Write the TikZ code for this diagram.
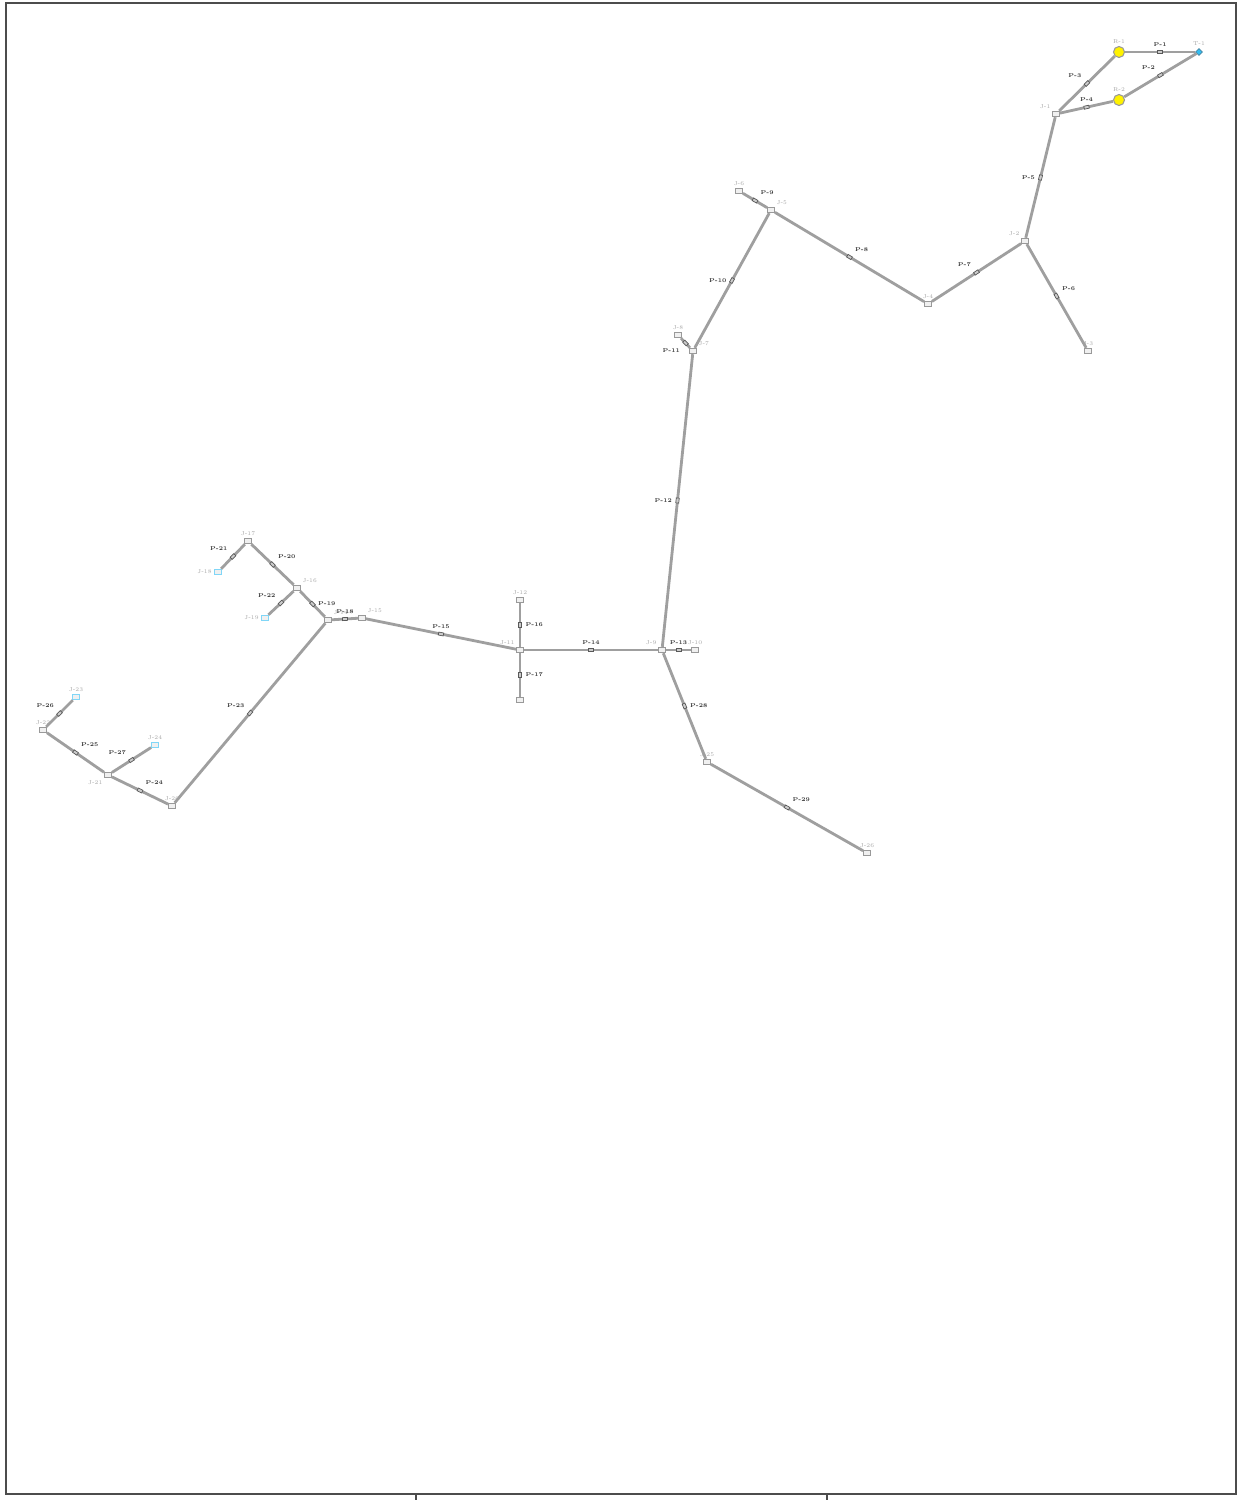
\documentclass[tikz,border=0pt]{standalone}
\usetikzlibrary{shapes.geometric}
\tikzset{
  pipe/.style={draw=gray!75, line width=0.8pt},
  junc/.style={draw=gray!80, fill=gray!12, rectangle, minimum width=0.07cm, minimum height=0.055cm, inner sep=0pt, line width=0.25pt},
  resv/.style={draw=gray!80, fill=yellow, circle, minimum size=0.11cm, inner sep=0pt, line width=0.3pt},
  tank/.style={fill=cyan!80, draw=cyan!60!black, diamond, minimum size=0.07cm, inner sep=0pt, line width=0.2pt},
  valve/.style={draw=gray!70!black, fill=gray!40, rectangle, sloped, minimum width=0.05cm, minimum height=0.03cm, inner sep=0pt, line width=0.2pt},
  nlabel/.style={text=gray!70, font=\fontsize{1.6}{2}\selectfont, inner sep=0.5pt},
  plabel/.style={text=black!80, font=\fontsize{1.6}{2}\selectfont\bfseries, inner sep=1.2pt}
}
\begin{document}
\begin{tikzpicture}[x=0.01cm, y=-0.01cm]
    \useasboundingbox (0,0) rectangle (1242,1500);

    %frame
    \draw[gray!60!black, line width=0.6pt] (6,3) rectangle (1236,1494);
    \draw[gray!60!black, line width=0.4pt] (416,1494) -- (416,1500);
    \draw[gray!60!black, line width=0.4pt] (827,1494) -- (827,1500);

    %sources
    \node[resv, label={[nlabel]above:R-1}] (R1) at (1119,52) {};
    \node[resv, label={[nlabel]above:R-2}] (R2) at (1119,100) {};
    \node[tank, label={[nlabel]above:T-1}] (T1) at (1199,52) {};

    %junctions
    \node[junc, label={[nlabel]above left:J-1}] (J1) at (1056,114) {};
    \node[junc, label={[nlabel]above left:J-2}] (J2) at (1025,241) {};
    \node[junc, label={[nlabel]above:J-3}] (J3) at (1088,351) {};
    \node[junc, label={[nlabel]above:J-4}] (J4) at (928,304) {};
    \node[junc, label={[nlabel]above right:J-5}] (J5) at (771,210) {};
    \node[junc, label={[nlabel]above:J-6}] (J6) at (739,191) {};
    \node[junc, label={[nlabel]above right:J-7}] (J7) at (693,351) {};
    \node[junc, label={[nlabel]above:J-8}] (J8) at (678,335) {};
    \node[junc, label={[nlabel]above left:J-9}] (J9) at (662,650) {};
    \node[junc, label={[nlabel]above:J-10}] (J10) at (695,650) {};
    \node[junc, label={[nlabel]above left:J-11}] (J11) at (520,650) {};
    \node[junc, label={[nlabel]above:J-12}] (J12) at (520,600) {};
    \node[junc] (J13) at (520,700) {};
    \node[junc, label={[nlabel]above right:J-14}] (J14) at (328,620) {};
    \node[junc, label={[nlabel]above right:J-15}] (J15) at (362,618) {};
    \node[junc, label={[nlabel]above right:J-16}] (J16) at (297,588) {};
    \node[junc, label={[nlabel]above:J-17}] (J17) at (248,541) {};
    \node[junc, draw=cyan!50, label={[nlabel]left:J-18}] (J18) at (218,572) {};
    \node[junc, draw=cyan!50, label={[nlabel]left:J-19}] (J19) at (265,618) {};
    \node[junc, label={[nlabel]above:J-20}] (J20) at (172,806) {};
    \node[junc, label={[nlabel]below left:J-21}] (J21) at (108,775) {};
    \node[junc, label={[nlabel]above:J-22}] (J22) at (43,730) {};
    \node[junc, draw=cyan!50, label={[nlabel]above:J-23}] (J23) at (76,697) {};
    \node[junc, draw=cyan!50, label={[nlabel]above:J-24}] (J24) at (155,745) {};
    \node[junc, label={[nlabel]above:J-25}] (J25) at (707,762) {};
    \node[junc, label={[nlabel]above:J-26}] (J26) at (867,853) {};

    %pipes
    \foreach \a/\b/\lab/\side in {
        R1/T1/P-1/above, R2/T1/P-2/above left, J1/R1/P-3/above left, J1/R2/P-4/above,
        J1/J2/P-5/left, J2/J3/P-6/above right, J2/J4/P-7/above left, J4/J5/P-8/above right,
        J5/J6/P-9/above right, J5/J7/P-10/left, J7/J8/P-11/below left, J7/J9/P-12/left,
        J9/J10/P-13/above, J11/J9/P-14/above, J15/J11/P-15/above, J11/J12/P-16/right,
        J11/J13/P-17/right, J14/J15/P-18/above, J14/J16/P-19/right, J16/J17/P-20/above right,
        J17/J18/P-21/above left, J16/J19/P-22/above left, J14/J20/P-23/above left,
        J20/J21/P-24/above right, J21/J22/P-25/above right, J22/J23/P-26/above left,
        J21/J24/P-27/above left, J9/J25/P-28/right, J25/J26/P-29/above right}
      \draw[pipe] (\a) -- node[valve] {} node[plabel, \side] {\lab} (\b);
\end{tikzpicture}
\end{document}
